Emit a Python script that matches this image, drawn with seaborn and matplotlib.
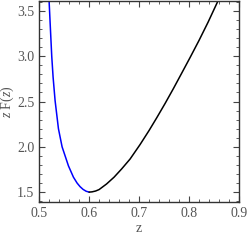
import numpy as np
import pandas as pd
import seaborn as sns
import matplotlib.pyplot as plt
from matplotlib.ticker import MultipleLocator

# left branch (blue) and right branch (black) of z F(z)
z_left = [0.518, 0.52, 0.5225, 0.5253, 0.528, 0.532, 0.5387, 0.546, 0.5587,
          0.5687, 0.576, 0.582, 0.588, 0.594, 0.6]
f_left = [3.84, 3.61, 3.32, 3.0, 2.77, 2.51, 2.2, 2.0, 1.79,
          1.665, 1.6, 1.56, 1.53, 1.51, 1.5]
z_right = [0.6, 0.606, 0.613, 0.62, 0.635, 0.65, 0.665, 0.682, 0.702, 0.72, 0.7353,
           0.752, 0.7687, 0.785, 0.802, 0.82, 0.838, 0.8553, 0.87]
f_right = [1.5, 1.503, 1.512, 1.528, 1.59, 1.665, 1.755, 1.865, 2.025, 2.18, 2.32,
           2.478, 2.643, 2.81, 2.985, 3.175, 3.375, 3.58, 3.76]

sns.set_style('ticks')
plt.rcParams['font.family'] = ['Liberation Serif', 'DejaVu Serif']
plt.rcParams['mathtext.fontset'] = 'custom'
plt.rcParams['mathtext.rm'] = 'Liberation Serif'
plt.rcParams['mathtext.it'] = 'Liberation Serif:italic'

fig = plt.figure(figsize=(2.49, 2.40), dpi=100)
ax = fig.add_axes([0.157, 0.158, 0.803, 0.838])

left = pd.DataFrame({'z': z_left, 'zF': f_left})
right = pd.DataFrame({'z': z_right, 'zF': f_right})
sns.lineplot(data=left, x='z', y='zF', color='#0000ff', lw=1.1, ax=ax, sort=False)
sns.lineplot(data=right, x='z', y='zF', color='black', lw=1.1, ax=ax, sort=False)

ax.set_xlim(0.5, 0.9)
ax.set_ylim(1.39, 3.61)
ax.xaxis.set_major_locator(MultipleLocator(0.1))
ax.xaxis.set_minor_locator(MultipleLocator(0.02))
ax.yaxis.set_major_locator(MultipleLocator(0.5))
ax.yaxis.set_minor_locator(MultipleLocator(0.1))
ax.tick_params(which='both', direction='in', top=True, right=True,
               labelsize=10, labelcolor='#555555', color='#444444')
ax.tick_params(which='major', length=4, width=0.8)
ax.tick_params(which='minor', length=2, width=0.6)
for s in ax.spines.values():
    s.set_color('#333333')
    s.set_linewidth(1.0)

ax.set_xlabel('z', fontsize=10, color='#555555')
ax.set_ylabel(r'$z\ \mathrm{F}(z)$', fontsize=10, color='#555555')
ax.xaxis.set_label_coords(0.5, -0.1)
ax.yaxis.set_label_coords(-0.115, 0.5)

plt.savefig('out.png', dpi=100)
